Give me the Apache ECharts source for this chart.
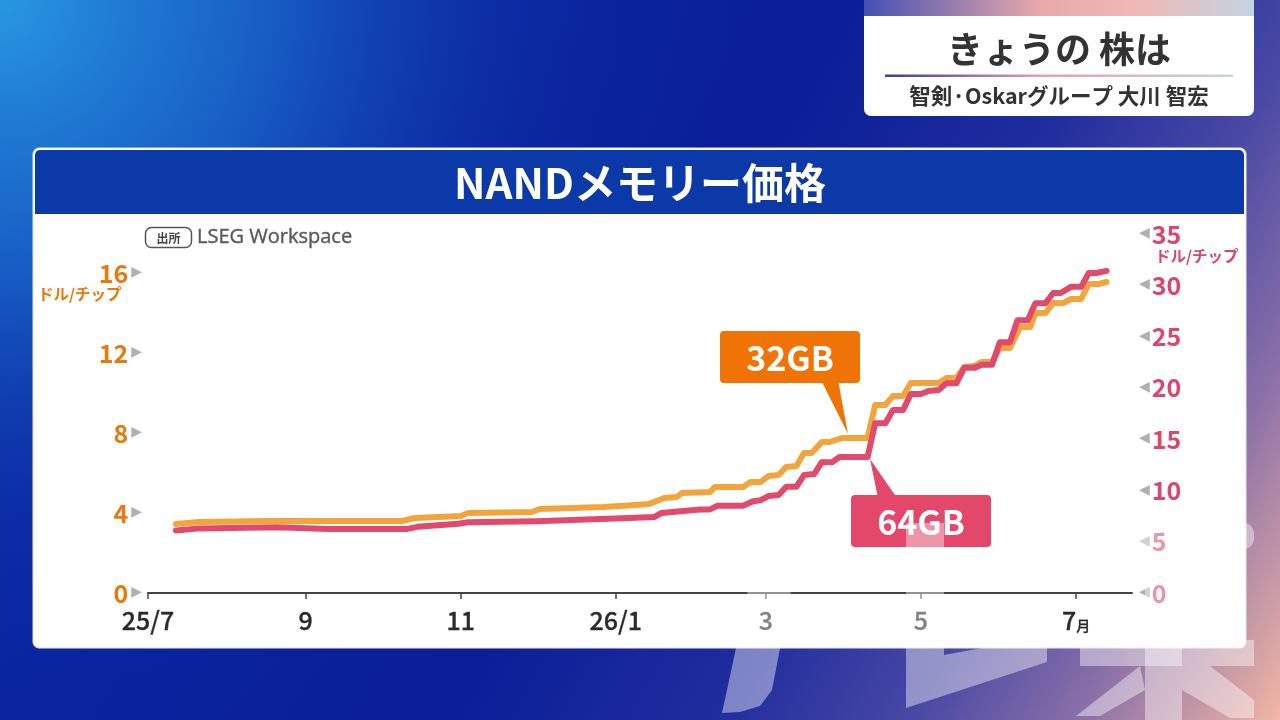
<!DOCTYPE html>
<html>
<head>
<meta charset="utf-8">
<script src="https://cdn.jsdelivr.net/npm/echarts@6/dist/echarts.min.js"></script>
<style>
html,body{margin:0;padding:0;width:1280px;height:720px;overflow:hidden;background:#0a1e96;}
#chart{width:1280px;height:720px;}
</style>
</head>
<body>
<div id="chart"></div>
<script>
// ---- data ----
const dates32 = ['2025-07-12','2025-07-21','2025-08-18','2025-10-09','2025-10-14','2025-11-01','2025-11-04','2025-11-29','2025-12-02','2025-12-27','2026-01-03','2026-01-14','2026-01-20','2026-01-25','2026-01-27','2026-02-07','2026-02-09','2026-02-20','2026-02-23','2026-02-27','2026-03-02','2026-03-06','2026-03-09','2026-03-13','2026-03-16','2026-03-19','2026-03-23','2026-03-26','2026-03-31','2026-04-10','2026-04-13','2026-04-17','2026-04-20','2026-04-24','2026-04-27','2026-05-08','2026-05-11','2026-05-15','2026-05-18','2026-05-22','2026-05-25','2026-05-29','2026-06-01','2026-06-05','2026-06-09','2026-06-13','2026-06-15','2026-06-19','2026-06-22','2026-06-26','2026-06-29','2026-07-03','2026-07-06','2026-07-10','2026-07-13'];
const values32 = [3.45,3.55,3.6,3.6,3.75,3.85,4.0,4.05,4.2,4.3,4.35,4.45,4.75,4.8,5.0,5.05,5.3,5.3,5.55,5.55,5.85,5.9,6.3,6.35,7.0,7.0,7.55,7.55,7.75,7.75,9.4,9.4,9.85,9.85,10.5,10.5,10.75,10.75,11.3,11.35,11.55,11.55,12.25,12.25,13.3,13.3,14.0,14.0,14.5,14.5,14.7,14.7,15.45,15.45,15.55];

const dates64 = ['2025-07-12','2025-07-21','2025-08-21','2025-09-10','2025-10-11','2025-10-15','2025-10-31','2025-11-04','2025-12-01','2026-01-06','2026-01-16','2026-01-19','2026-02-03','2026-02-07','2026-02-10','2026-02-20','2026-02-24','2026-02-27','2026-03-02','2026-03-06','2026-03-09','2026-03-13','2026-03-16','2026-03-20','2026-03-23','2026-03-27','2026-03-30','2026-04-10','2026-04-13','2026-04-17','2026-04-20','2026-04-24','2026-04-27','2026-05-01','2026-05-04','2026-05-08','2026-05-11','2026-05-15','2026-05-18','2026-05-22','2026-05-25','2026-05-29','2026-06-01','2026-06-05','2026-06-08','2026-06-12','2026-06-15','2026-06-19','2026-06-22','2026-06-25','2026-06-29','2026-07-03','2026-07-06','2026-07-09','2026-07-13'];
const values64 = [6.1,6.3,6.4,6.25,6.25,6.45,6.75,6.9,7.0,7.3,7.4,7.8,8.15,8.15,8.5,8.5,8.95,9.05,9.45,9.55,10.35,10.35,11.5,11.6,12.75,12.75,13.25,13.25,16.55,16.55,17.85,17.85,19.4,19.4,19.7,19.8,20.45,20.45,21.95,21.95,22.25,22.25,24.45,24.45,26.6,26.6,28.25,28.25,29.25,29.25,29.85,29.85,31.2,31.2,31.4];

const tickDates  = ['2025-07-01','2025-09-01','2025-11-01','2026-01-01','2026-03-01','2026-05-01','2026-07-01'];
const tickLabels = ['25/7','9','11','26/1','3','5','7月'];
const xMin = '2025-07-01', xMax = '2026-07-23';

const seriesNames = ['32GB','64GB'];
const unitLabel = 'ドル/チップ';
const chartTitle = 'NANDメモリー価格';
const headerTitle = 'きょうの 株は';
const headerSub = '智剣·Oskarグループ 大川 智宏';
const sourceTag = '出所';
const sourceText = 'LSEG Workspace';

// ---- helpers ----
const parseT = s => Date.UTC(+s.slice(0, 4), +s.slice(5, 7) - 1, +s.slice(8, 10));
const tickTs = tickDates.map(parseT);
const FONT = '"Noto Sans CJK JP","Noto Sans",sans-serif';
const ORANGE_TXT = '#e8790f', RED_TXT = '#d9476b';
const ORANGE_LINE = '#f2a53d', RED_LINE = '#e04a6c';
const LG = echarts.graphic.LinearGradient;
const RG = echarts.graphic.RadialGradient;

const chart = echarts.init(document.getElementById('chart'));

const overlay = 'rgba(255,255,255,0.42)';

const option = {
  animation: false,
  grid: { left: 148, right: 148, top: 234, bottom: 127 },
  xAxis: {
    type: 'value',
    min: parseT(xMin), max: parseT(xMax),
    axisLine: { show: true, lineStyle: { color: '#444', width: 2 } },
    axisTick: { show: true, customValues: tickTs, length: 6, lineStyle: { color: '#444', width: 1.5 } },
    splitLine: { show: false },
    axisLabel: {
      customValues: tickTs,
      margin: 10,
      formatter: function (v) {
        let i = tickTs.findIndex(t => Math.abs(t - v) < 1000);
        if (i < 0) return '';
        const s = tickLabels[i];
        if (s.endsWith('月')) return '{b|' + s.slice(0, -1) + '}{m|月}';
        return '{b|' + s + '}';
      },
      rich: {
        b: { fontSize: 25, fontWeight: 500, color: '#2a2a2a', fontFamily: FONT, lineHeight: 30, verticalAlign: 'bottom',
             textBorderColor: '#2a2a2a', textBorderWidth: 0.3 },
        m: { fontSize: 14, fontWeight: 500, color: '#2a2a2a', fontFamily: FONT, lineHeight: 22, verticalAlign: 'bottom',
             textBorderColor: '#2a2a2a', textBorderWidth: 0.3 }
      }
    }
  },
  yAxis: [
    {
      type: 'value', min: 0, max: 17.95, interval: 4, position: 'left',
      axisLine: { show: false }, axisTick: { show: false }, splitLine: { show: false },
      axisLabel: {
        showMaxLabel: false, margin: 6,
        formatter: v => '{n|' + v + '}{t|▶}',
        rich: {
          n: { fontSize: 25, fontWeight: 'bold', color: ORANGE_TXT, fontFamily: FONT },
          t: { fontSize: 14, color: '#b0b0b0', fontFamily: '"DejaVu Sans"', padding: [0, 0, 1, 3] }
        }
      }
    },
    {
      type: 'value', min: 0, max: 35, interval: 5, position: 'right',
      axisLine: { show: false }, axisTick: { show: false }, splitLine: { show: false },
      axisLabel: {
        margin: 7,
        formatter: v => '{t|◀}{n|' + v + '}',
        rich: {
          n: { fontSize: 25, fontWeight: 'bold', color: RED_TXT, fontFamily: FONT },
          t: { fontSize: 14, color: '#b0b0b0', fontFamily: '"DejaVu Sans"', padding: [0, 2, 1, 0] }
        }
      }
    }
  ],
  series: [
    {
      name: seriesNames[0], type: 'line', yAxisIndex: 0, showSymbol: false, z: 3,
      lineStyle: { color: ORANGE_LINE, width: 6, join: 'round', cap: 'round' },
      data: dates32.map((d, i) => [parseT(d), values32[i]])
    },
    {
      name: seriesNames[1], type: 'line', yAxisIndex: 1, showSymbol: false, z: 4,
      lineStyle: { color: RED_LINE, width: 6, join: 'round', cap: 'round' },
      data: dates64.map((d, i) => [parseT(d), values64[i]])
    }
  ],
  graphic: [
    // background
    { type: 'rect', z: -100, shape: { x: 0, y: 0, width: 1280, height: 720 },
      style: { fill: new LG(0, 0, 1, 1, [
        { offset: 0, color: '#0a2aa6' },
        { offset: 0.5, color: '#0a1e98' },
        { offset: 0.66, color: '#1f2c9e' },
        { offset: 0.78, color: '#4848a4' },
        { offset: 0.88, color: '#8a70a8' },
        { offset: 1, color: '#f2b6a4' }
      ]) } },
    { type: 'rect', z: -99, shape: { x: 0, y: 0, width: 1280, height: 720 },
      style: { fill: new RG(0, 0, 760, [
        { offset: 0, color: 'rgba(40,152,226,1)' },
        { offset: 0.35, color: 'rgba(28,112,208,0.75)' },
        { offset: 0.7, color: 'rgba(16,60,176,0.25)' },
        { offset: 1, color: 'rgba(10,34,160,0)' }
      ], true) } },
    // header box
    { type: 'rect', z: -60, shape: { x: 864, y: 0, width: 390, height: 18 },
      style: { fill: new LG(0, 0, 1, 0, [
        { offset: 0, color: '#4450b2' },
        { offset: 0.45, color: '#e9a8aa' },
        { offset: 0.7, color: '#f0b8b4' },
        { offset: 1, color: '#c4d4e4' }
      ]) } },
    { type: 'rect', z: -59, shape: { x: 864, y: 16, width: 390, height: 100, r: [0, 0, 7, 7] },
      style: { fill: '#ffffff' } },
    { type: 'text', z: -58, x: 1059, y: 49,
      style: { text: headerTitle, fill: '#333', fontSize: 36, fontWeight: 'bold', fontFamily: FONT, align: 'center', verticalAlign: 'middle' } },
    { type: 'rect', z: -58, shape: { x: 885, y: 74.5, width: 348, height: 2.5 },
      style: { fill: new LG(0, 0, 1, 0, [
        { offset: 0, color: '#3a3ca2' },
        { offset: 0.45, color: '#e2a2aa' },
        { offset: 1, color: '#c8d4de' }
      ]) } },
    { type: 'text', z: -58, x: 1059, y: 96,
      style: { text: headerSub, fill: '#333', fontSize: 21.5, fontWeight: 'bold', fontFamily: FONT, align: 'center', verticalAlign: 'middle' } },
    // panel
    { type: 'rect', z: -50, shape: { x: 33, y: 148, width: 1213, height: 500, r: 6 },
      style: { fill: '#ffffff', stroke: '#e6e6ee', lineWidth: 1 } },
    { type: 'rect', z: -49, shape: { x: 35, y: 150, width: 1209, height: 64, r: [5, 5, 0, 0] },
      style: { fill: '#0b3aa8' } },
    { type: 'text', z: -48, x: 640, y: 183,
      style: { text: chartTitle, fill: '#fff', fontSize: 42, fontWeight: 'bold', fontFamily: FONT, align: 'center', verticalAlign: 'middle' } },
    // source
    { type: 'rect', z: -48, shape: { x: 145.5, y: 227.5, width: 46, height: 20, r: 6 },
      style: { fill: 'none', stroke: '#555', lineWidth: 1.5 } },
    { type: 'text', z: -48, x: 168.5, y: 238,
      style: { text: sourceTag, fill: '#444', fontSize: 12, fontWeight: 'bold', fontFamily: FONT, align: 'center', verticalAlign: 'middle' } },
    { type: 'text', z: -48, x: 197, y: 237,
      style: { text: sourceText, fill: '#5a5a5a', fontSize: 20, fontWeight: 'normal', fontFamily: '"Open Sans","Noto Sans",sans-serif', align: 'left', verticalAlign: 'middle',
               stroke: '#5a5a5a', lineWidth: 0.4 } },
    // axis unit names
    { type: 'text', z: -48, x: 38, y: 294,
      style: { text: unitLabel, fill: ORANGE_TXT, fontSize: 15.5, fontWeight: 'bold', fontFamily: FONT, align: 'left', verticalAlign: 'middle' } },
    { type: 'text', z: -48, x: 1155, y: 256,
      style: { text: unitLabel, fill: RED_TXT, fontSize: 15.5, fontWeight: 'bold', fontFamily: FONT, align: 'left', verticalAlign: 'middle' } },
    // callout 32GB
    { type: 'polygon', z: 50, shape: { points: [[821, 380], [838, 380], [848, 434]] }, style: { fill: '#ef7405' } },
    { type: 'rect', z: 51, shape: { x: 720, y: 331, width: 140, height: 52, r: 4 }, style: { fill: '#ef7405' } },
    { type: 'text', z: 52, x: 790, y: 358,
      style: { text: seriesNames[0], fill: '#fff', fontSize: 34, fontWeight: 'bold', fontFamily: FONT, align: 'center', verticalAlign: 'middle' } },
    // callout 64GB
    { type: 'polygon', z: 50, shape: { points: [[870, 459], [878, 498], [897, 498]] }, style: { fill: '#e3486a' } },
    { type: 'rect', z: 51, shape: { x: 851, y: 495, width: 140, height: 52, r: 4 }, style: { fill: '#e3486a' } },
    { type: 'text', z: 52, x: 921, y: 522,
      style: { text: seriesNames[1], fill: '#fff', fontSize: 34, fontWeight: 'bold', fontFamily: FONT, align: 'center', verticalAlign: 'middle' } },
    // watermark overlay (translucent logo strokes)
    { type: 'polygon', z: 100, silent: true, shape: { points: [[754, 560], [797, 560], [772, 690], [760, 706], [740, 712], [722, 713], [736, 648]] }, style: { fill: overlay } },
    { type: 'polygon', z: 100, silent: true, shape: { points: [[906, 523], [944, 523], [944, 655], [1047, 636], [1047, 662], [906, 708]] }, style: { fill: overlay } },
    { type: 'rect', z: 100, silent: true, shape: { x: 1098, y: 523, width: 156, height: 26, r: [0, 10, 10, 0] }, style: { fill: overlay } },
    { type: 'rect', z: 100, silent: true, shape: { x: 1145, y: 549, width: 37, height: 171 }, style: { fill: overlay } },
    { type: 'rect', z: 100, silent: true, shape: { x: 1080, y: 640, width: 174, height: 26 }, style: { fill: overlay } },
    { type: 'polygon', z: 100, silent: true, shape: { points: [[1140, 666], [1145, 690], [1100, 716], [1076, 716]] }, style: { fill: overlay } },
    { type: 'polygon', z: 100, silent: true, shape: { points: [[1182, 666], [1210, 666], [1254, 700], [1254, 718], [1230, 718], [1182, 690]] }, style: { fill: overlay } }
  ]
};
chart.setOption(option);
</script>
</body>
</html>
